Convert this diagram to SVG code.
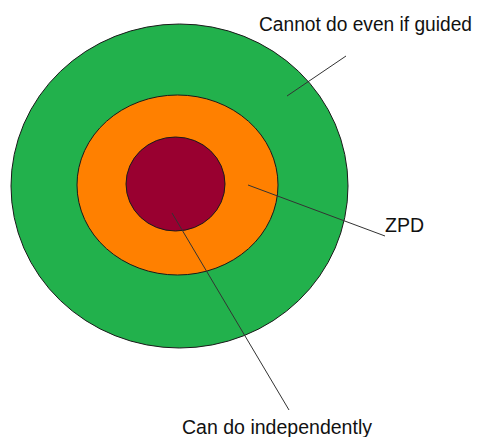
<svg xmlns="http://www.w3.org/2000/svg" width="477" height="437" viewBox="0 0 477 437">
  <style>
    .ring { stroke: #1a1a1a; stroke-width: 1; }
    .lead { stroke: #333333; stroke-width: 1; fill: none; }
    .label { font-family: "Liberation Sans", Arial, sans-serif; font-size: 19.5px; fill: #111111; }
  </style>
  <rect width="477" height="437" fill="#ffffff"/>

  <!-- concentric zones -->
  <g id="outer-zone">
    <ellipse class="ring" cx="179.5" cy="186" rx="168.5" ry="162" fill="#22b14c"/>
  </g>
  <g id="zpd-zone">
    <ellipse class="ring" cx="177.5" cy="185" rx="100.5" ry="90" fill="#ff8000"/>
  </g>
  <g id="inner-zone">
    <ellipse class="ring" cx="175.5" cy="184" rx="49.5" ry="47" fill="#990030"/>
  </g>

  <!-- leader lines -->
  <g id="connectors">
    <line class="lead" x1="287" y1="96" x2="346" y2="56"/>
    <line class="lead" x1="248" y1="185" x2="385" y2="236"/>
    <line class="lead" x1="172" y1="213" x2="289" y2="410"/>
  </g>

  <!-- labels -->
  <g id="label-cannot">
    <text class="label" x="259" y="31" textLength="213" lengthAdjust="spacingAndGlyphs">Cannot do even if guided</text>
  </g>
  <g id="label-zpd">
    <text class="label" x="385" y="232" textLength="39" lengthAdjust="spacingAndGlyphs">ZPD</text>
  </g>
  <g id="label-can">
    <text class="label" x="182" y="434" textLength="190" lengthAdjust="spacingAndGlyphs">Can do independently</text>
  </g>
</svg>
